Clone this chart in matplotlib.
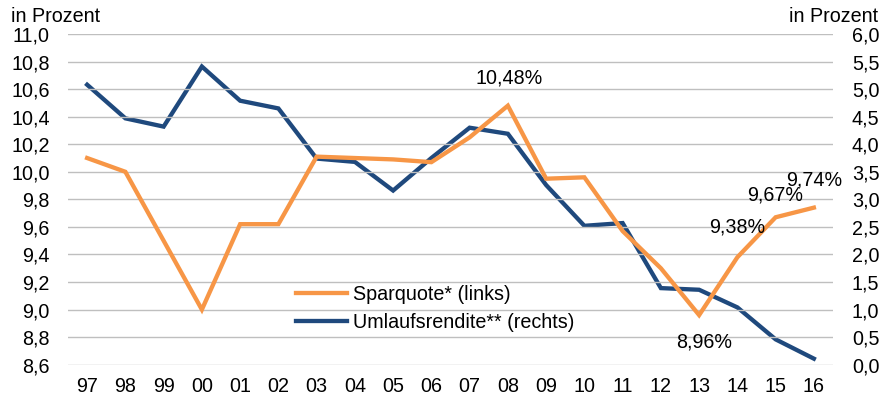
import matplotlib
matplotlib.use("Agg")
import matplotlib.pyplot as plt

plt.rcParams['font.family'] = ['Liberation Sans', 'DejaVu Sans']

years = ["97", "98", "99", "00", "01", "02", "03", "04", "05", "06",
         "07", "08", "09", "10", "11", "12", "13", "14", "15", "16"]
sparquote = [10.10, 10.00, 9.50, 9.00, 9.62, 9.62, 10.11, 10.10, 10.09, 10.07,
             10.25, 10.48, 9.95, 9.96, 9.57, 9.30, 8.96, 9.38, 9.67, 9.74]
umlaufsrendite = [5.08, 4.47, 4.32, 5.41, 4.79, 4.65, 3.74, 3.68, 3.16, 3.75,
                  4.30, 4.19, 3.26, 2.52, 2.57, 1.39, 1.36, 1.04, 0.46, 0.11]
left_ticks = [8.6, 8.8, 9.0, 9.2, 9.4, 9.6, 9.8, 10.0, 10.2, 10.4, 10.6, 10.8, 11.0]
right_ticks = [0.0, 0.5, 1.0, 1.5, 2.0, 2.5, 3.0, 3.5, 4.0, 4.5, 5.0, 5.5, 6.0]
labelled = {"08": "10,48%", "13": "8,96%", "14": "9,38%", "15": "9,67%", "16": "9,74%"}

ORANGE = '#F79646'
BLUE = '#1F497D'
FS = 14.2

fig = plt.figure(figsize=(8.82, 4.03), dpi=100)
ax = fig.add_axes([68 / 882, 0.095, 765 / 882, 0.8206])
ax2 = ax.twinx()

x = list(range(len(years)))
l1, = ax.plot(x, sparquote, color=ORANGE, lw=3.1, solid_joinstyle='miter', zorder=3,
              label='Sparquote* (links)')
l2, = ax2.plot(x, umlaufsrendite, color=BLUE, lw=3.1, solid_joinstyle='miter', zorder=3,
               label='Umlaufsrendite** (rechts)')

ax.set_xlim(-0.5, len(years) - 0.5)
ax.set_ylim(8.6, 11.0)
ax2.set_ylim(0.0, 6.0)
ax.set_yticks(left_ticks)
ax.set_yticklabels([f"{v:.1f}".replace('.', ',') for v in left_ticks], fontsize=FS)
ax2.set_yticks(right_ticks)
ax2.set_yticklabels([f"{v:.1f}".replace('.', ',') for v in right_ticks], fontsize=FS)
ax.set_xticks(x)
ax.set_xticklabels(years, fontsize=FS)

ax.grid(axis='y', color='#BFBFBF', lw=1)
ax.set_axisbelow(True)
for a in (ax, ax2):
    for s in a.spines.values():
        s.set_visible(False)
    a.tick_params(length=0)
ax.tick_params(axis='y', pad=13)
ax2.tick_params(axis='y', pad=13.5)
ax.tick_params(axis='x', pad=9)
ax.set_zorder(ax2.get_zorder() + 1)
ax.patch.set_visible(False)

# data labels
offsets = {"08": (1, 28), "13": (5, -27), "14": (0, 30), "15": (0, 22), "16": (0, 28)}
for i, y in enumerate(years):
    if y in labelled:
        dx, dy = offsets[y]
        ax.annotate(labelled[y], (i, sparquote[i]), xytext=(dx, dy),
                    textcoords='offset pixels', ha='center', va='center', fontsize=FS)

fig.text(11 / 882, 1 - 16 / 403, 'in Prozent', fontsize=FS, ha='left', va='center')
fig.text(878 / 882, 1 - 16 / 403, 'in Prozent', fontsize=FS, ha='right', va='center')

leg = ax.legend(handles=[l1, l2], loc='upper left', bbox_to_anchor=(288 / 882, 1 - 277 / 403),
                bbox_transform=fig.transFigure, frameon=False, fontsize=FS,
                handlelength=2.6, handletextpad=0.3, labelspacing=0.45, borderaxespad=0)

fig.savefig('out.png', dpi=100)
